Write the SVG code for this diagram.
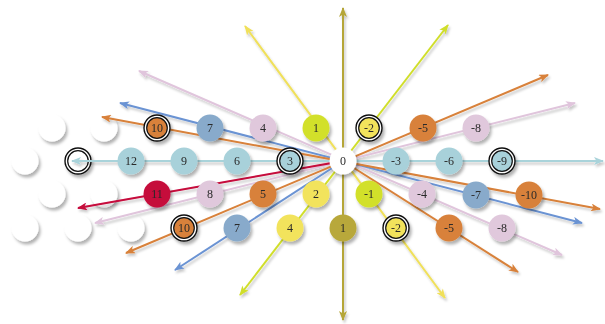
<svg xmlns="http://www.w3.org/2000/svg" width="605" height="324" viewBox="0 0 605 324">
<defs>
<filter id="sh" x="-30%" y="-30%" width="160%" height="160%">
<feDropShadow dx="2" dy="3" stdDeviation="1.8" flood-color="#000" flood-opacity="0.3"/>
</filter>
<filter id="lsh" x="-10%" y="-10%" width="120%" height="120%">
<feDropShadow dx="1.5" dy="2.5" stdDeviation="1.2" flood-color="#000" flood-opacity="0.22"/>
</filter>
<marker id="aLb" viewBox="0 0 10 8" refX="9" refY="4" markerWidth="11" markerHeight="8" markerUnits="userSpaceOnUse" orient="auto-start-reverse"><path d="M0,0 L10,4 L0,8 L2.5,4 z" fill="#a9d3da"/></marker>
<marker id="aOl" viewBox="0 0 10 8" refX="9" refY="4" markerWidth="11" markerHeight="8" markerUnits="userSpaceOnUse" orient="auto-start-reverse"><path d="M0,0 L10,4 L0,8 L2.5,4 z" fill="#b5a638"/></marker>
<marker id="aYe" viewBox="0 0 10 8" refX="9" refY="4" markerWidth="11" markerHeight="8" markerUnits="userSpaceOnUse" orient="auto-start-reverse"><path d="M0,0 L10,4 L0,8 L2.5,4 z" fill="#f0e05a"/></marker>
<marker id="aLi" viewBox="0 0 10 8" refX="9" refY="4" markerWidth="11" markerHeight="8" markerUnits="userSpaceOnUse" orient="auto-start-reverse"><path d="M0,0 L10,4 L0,8 L2.5,4 z" fill="#d0de2c"/></marker>
<marker id="aPi" viewBox="0 0 10 8" refX="9" refY="4" markerWidth="11" markerHeight="8" markerUnits="userSpaceOnUse" orient="auto-start-reverse"><path d="M0,0 L10,4 L0,8 L2.5,4 z" fill="#e0c5dc"/></marker>
<marker id="aBl" viewBox="0 0 10 8" refX="9" refY="4" markerWidth="11" markerHeight="8" markerUnits="userSpaceOnUse" orient="auto-start-reverse"><path d="M0,0 L10,4 L0,8 L2.5,4 z" fill="#6b93d3"/></marker>
<marker id="aOr" viewBox="0 0 10 8" refX="9" refY="4" markerWidth="11" markerHeight="8" markerUnits="userSpaceOnUse" orient="auto-start-reverse"><path d="M0,0 L10,4 L0,8 L2.5,4 z" fill="#d8813a"/></marker>
<marker id="aCr" viewBox="0 0 10 8" refX="9" refY="4" markerWidth="11" markerHeight="8" markerUnits="userSpaceOnUse" orient="auto-start-reverse"><path d="M0,0 L10,4 L0,8 L2.5,4 z" fill="#c5083a"/></marker>
</defs>
<style>
line{stroke-width:2;fill:none}
.lb{stroke:#a9d3da;marker-start:url(#aLb);marker-end:url(#aLb)}
.ol{stroke:#b5a638;marker-start:url(#aOl);marker-end:url(#aOl)}
.ye{stroke:#f0e05a;marker-start:url(#aYe);marker-end:url(#aYe)}
.li{stroke:#d0de2c;marker-start:url(#aLi);marker-end:url(#aLi)}
.pi{stroke:#e0c5dc;marker-start:url(#aPi);marker-end:url(#aPi)}
.bl{stroke:#6b93d3;marker-start:url(#aBl);marker-end:url(#aBl)}
.or{stroke:#d8813a;marker-start:url(#aOr);marker-end:url(#aOr)}
.cr{stroke:#c5083a;marker-end:url(#aCr)}
.one{marker-start:none}
.n circle{stroke:none}
.n text{font-family:"Liberation Serif","DejaVu Serif",serif;font-size:12px;fill:#2a2a2a;text-anchor:middle;dominant-baseline:central}
.w{fill:#ffffff}
.cLb{fill:#a8d1da}
.cOl{fill:#b8a83a}
.cYe{fill:#f2e35c}
.cLi{fill:#d2e02a}
.cPi{fill:#e0c8dc}
.cBl{fill:#88aacb}
.cOr{fill:#d8813a}
.cCr{fill:#c5083a}
.ring{fill:#ffffff;stroke:#111 !important;stroke-width:1.4}
.inner{stroke:#111 !important;stroke-width:1.2}
</style>
<g filter="url(#sh)">
<g id="e1" class="n"><circle class="w" cx="52" cy="128" r="13.5"/></g>
<g id="e2" class="n"><circle class="w" cx="104" cy="128" r="13.5"/></g>
<g id="e3" class="n"><circle class="w" cx="25" cy="161" r="13.5"/></g>
<g id="e4" class="n"><circle class="w" cx="52" cy="194" r="13.5"/></g>
<g id="e5" class="n"><circle class="w" cx="104" cy="194" r="13.5"/></g>
<g id="e6" class="n"><circle class="w" cx="25" cy="228" r="13.5"/></g>
<g id="e7" class="n"><circle class="w" cx="78" cy="228" r="13.5"/></g>
<g id="e8" class="n"><circle class="w" cx="131" cy="228" r="13.5"/></g>
<g id="e9" class="n"><circle class="ring" cx="78" cy="161" r="13"/><circle class="w inner" cx="78" cy="161" r="10.3"/></g>
</g>
<g id="connectors" filter="url(#lsh)">
<line class="lb" x1="72" y1="161" x2="603" y2="161"/>
<line class="ol" x1="343" y1="8" x2="343" y2="320"/>
<line class="ye" x1="245" y1="26" x2="445" y2="298"/>
<line class="li" x1="448" y1="25" x2="240" y2="295"/>
<line class="pi" x1="139" y1="71" x2="562" y2="255"/>
<line class="pi" x1="575" y1="103" x2="95" y2="223"/>
<line class="bl" x1="120" y1="103" x2="582" y2="223"/>
<line class="bl one" x1="343" y1="161" x2="175" y2="270"/>
<line class="or" x1="548" y1="75" x2="126" y2="253"/>
<line class="or" x1="102" y1="117" x2="600" y2="209"/>
<line class="or one" x1="343" y1="161" x2="518" y2="272"/>
<line class="cr" x1="343" y1="161" x2="78" y2="208"/>
</g>
<g filter="url(#sh)">
<g id="n10a" class="n"><circle class="ring" cx="157" cy="128" r="13"/><circle class="cOr inner" cx="157" cy="128" r="10.3"/><text x="157" y="128">10</text></g>
<g id="n7a" class="n"><circle class="cBl" cx="210" cy="128" r="13.5"/><text x="210" y="128">7</text></g>
<g id="n4a" class="n"><circle class="cPi" cx="263" cy="128" r="13.5"/><text x="263" y="128">4</text></g>
<g id="n1a" class="n"><circle class="cLi" cx="316" cy="128" r="13.5"/><text x="316" y="128">1</text></g>
<g id="nm2a" class="n"><circle class="ring" cx="369" cy="128" r="13"/><circle class="cYe inner" cx="369" cy="128" r="10.3"/><text x="369" y="128">-2</text></g>
<g id="nm5a" class="n"><circle class="cOr" cx="423" cy="128" r="13.5"/><text x="423" y="128">-5</text></g>
<g id="nm8a" class="n"><circle class="cPi" cx="476" cy="128" r="13.5"/><text x="476" y="128">-8</text></g>
<g id="n12" class="n"><circle class="cLb" cx="131" cy="161" r="13.5"/><text x="131" y="161">12</text></g>
<g id="n9" class="n"><circle class="cLb" cx="184" cy="161" r="13.5"/><text x="184" y="161">9</text></g>
<g id="n6" class="n"><circle class="cLb" cx="237" cy="161" r="13.5"/><text x="237" y="161">6</text></g>
<g id="n3" class="n"><circle class="ring" cx="290" cy="161" r="13"/><circle class="cLb inner" cx="290" cy="161" r="10.3"/><text x="290" y="161">3</text></g>
<g id="n0" class="n"><circle class="w" cx="343" cy="161" r="13.5"/><text x="343" y="161">0</text></g>
<g id="nm3" class="n"><circle class="cLb" cx="396" cy="161" r="13.5"/><text x="396" y="161">-3</text></g>
<g id="nm6" class="n"><circle class="cLb" cx="449" cy="161" r="13.5"/><text x="449" y="161">-6</text></g>
<g id="nm9" class="n"><circle class="ring" cx="502" cy="161" r="13"/><circle class="cLb inner" cx="502" cy="161" r="10.3"/><text x="502" y="161">-9</text></g>
<g id="n11" class="n"><circle class="cCr" cx="157" cy="194" r="13.5"/><text x="157" y="194">11</text></g>
<g id="n8" class="n"><circle class="cPi" cx="210" cy="194" r="13.5"/><text x="210" y="194">8</text></g>
<g id="n5" class="n"><circle class="cOr" cx="263" cy="194" r="13.5"/><text x="263" y="194">5</text></g>
<g id="n2" class="n"><circle class="cYe" cx="316" cy="194" r="13.5"/><text x="316" y="194">2</text></g>
<g id="nm1" class="n"><circle class="cLi" cx="369" cy="194" r="13.5"/><text x="369" y="194">-1</text></g>
<g id="nm4" class="n"><circle class="cPi" cx="422" cy="194" r="13.5"/><text x="422" y="194">-4</text></g>
<g id="nm7" class="n"><circle class="cBl" cx="476" cy="195" r="13.5"/><text x="476" y="195">-7</text></g>
<g id="nm10" class="n"><circle class="cOr" cx="529" cy="195" r="13.5"/><text x="529" y="195">-10</text></g>
<g id="n10b" class="n"><circle class="ring" cx="184" cy="228" r="13"/><circle class="cOr inner" cx="184" cy="228" r="10.3"/><text x="184" y="228">10</text></g>
<g id="n7b" class="n"><circle class="cBl" cx="237" cy="228" r="13.5"/><text x="237" y="228">7</text></g>
<g id="n4b" class="n"><circle class="cYe" cx="290" cy="228" r="13.5"/><text x="290" y="228">4</text></g>
<g id="n1b" class="n"><circle class="cOl" cx="343" cy="228" r="13.5"/><text x="343" y="228">1</text></g>
<g id="nm2b" class="n"><circle class="ring" cx="396" cy="228" r="13"/><circle class="cYe inner" cx="396" cy="228" r="10.3"/><text x="396" y="228">-2</text></g>
<g id="nm5b" class="n"><circle class="cOr" cx="449" cy="228" r="13.5"/><text x="449" y="228">-5</text></g>
<g id="nm8b" class="n"><circle class="cPi" cx="502" cy="228" r="13.5"/><text x="502" y="228">-8</text></g>
</g>
</svg>
